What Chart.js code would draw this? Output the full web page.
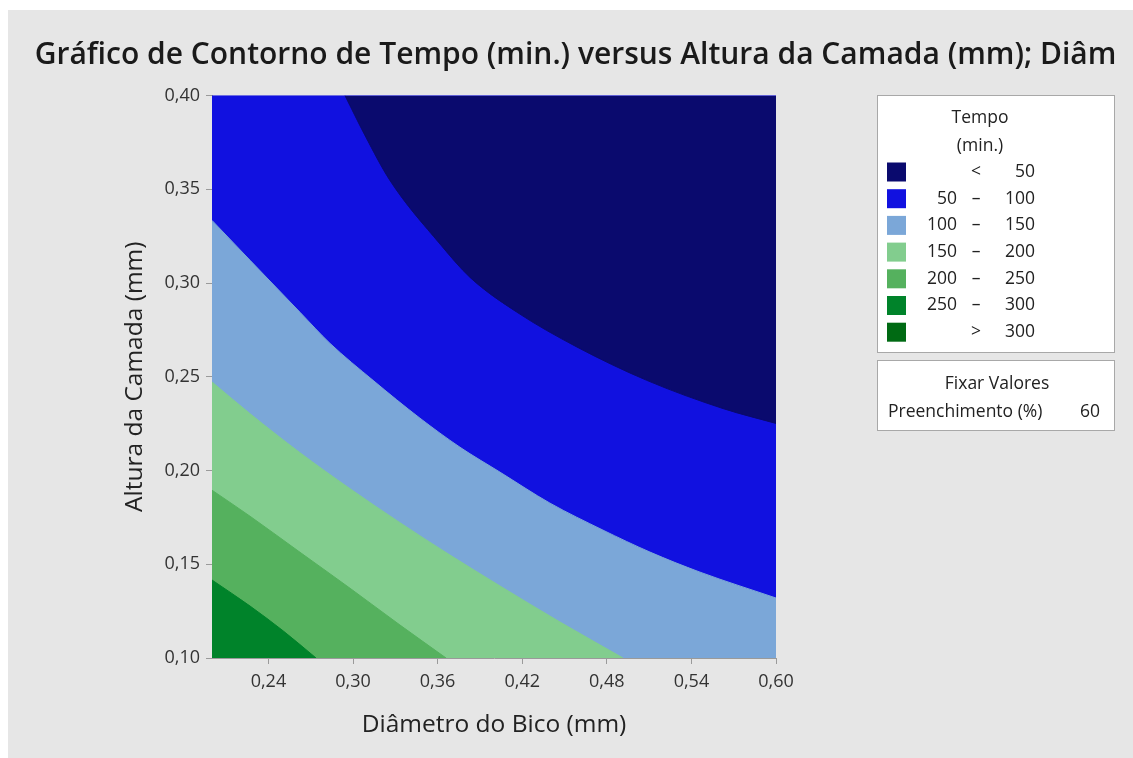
<!DOCTYPE html>
<html>
<head>
<meta charset="utf-8">
<script src="https://cdn.jsdelivr.net/npm/chart.js@4.4.1/dist/chart.umd.min.js"></script>
<style>
  html, body { margin: 0; padding: 0; background: #ffffff; }
  #panel { position: absolute; left: 8px; top: 10px; width: 1125px; height: 748px; background: #e6e6e6; }
  #c { position: absolute; left: 0; top: 0; }
</style>
</head>
<body>
<div id="panel"></div>
<canvas id="c" width="1133" height="758"></canvas>
<script>
// Contour lines of Tempo (min.) over Diâmetro do Bico (x) and Altura da Camada (y).
// The 50 contour runs from the top edge to the right edge; the < 50 band lies above it.
const contour50X  = [0.2943, 0.3085, 0.3262, 0.3617, 0.3830, 0.4161, 0.4587, 0.5083, 0.5626, 0.600];
const contour50Y  = [0.400,  0.3787, 0.3547, 0.3208, 0.3030, 0.2845, 0.2659, 0.2481, 0.2330, 0.2251];

// The remaining contours run from the left edge; each band below a contour is filled down to y = 0.10.
const contour100X = [0.200, 0.2270, 0.2624, 0.2837, 0.3142, 0.3475, 0.3759, 0.4043, 0.4397, 0.4773, 0.5106, 0.5461, 0.600];
const contour100Y = [0.3334, 0.3121, 0.2844, 0.2678, 0.2481, 0.2279, 0.2124, 0.1991, 0.1826, 0.1682, 0.1565, 0.1458, 0.1320];

const contour150X = [0.200, 0.2270, 0.2624, 0.2979, 0.3333, 0.3688, 0.4043, 0.4468, 0.4915];
const contour150Y = [0.2472, 0.2303, 0.2095, 0.1903, 0.1722, 0.1549, 0.1384, 0.1192, 0.100];

const contour200X = [0.200, 0.2270, 0.2624, 0.2979, 0.3333, 0.3660];
const contour200Y = [0.1895, 0.1756, 0.1564, 0.1372, 0.1176, 0.100];

const contour250X = [0.200, 0.2270, 0.2506, 0.2738];
const contour250Y = [0.1416, 0.1277, 0.1144, 0.100];

// whole plot area, filled with the 50–100 band
const fullX = [0.200, 0.600];
const fullY = [0.400, 0.400];

// axis ticks
const xTicks = [0.24, 0.30, 0.36, 0.42, 0.48, 0.54, 0.60];
const yTicks = [0.10, 0.15, 0.20, 0.25, 0.30, 0.35, 0.40];

// legend bands
const bandLow    = ['',   '50',  '100', '150', '200', '250', ''];
const bandSep    = ['<',  '–',   '–',   '–',   '–',   '–',   '>'];
const bandHigh   = ['50', '100', '150', '200', '250', '300', '300'];
const bandColors = ['#0a0a6e', '#1111e0', '#7ba7d8', '#82cd8e', '#55b15e', '#00832a', '#006a13'];

const FONT = "'Open Sans', 'Noto Sans', sans-serif";
const fmt = v => v.toFixed(2).replace('.', ',');
const pts = (xs, ys) => xs.map((x, i) => ({ x: x, y: ys[i] }));

function band(xs, ys, color, order, fill, smooth) {
  return {
    data: pts(xs, ys),
    showLine: true,
    fill: fill,
    backgroundColor: color,
    borderColor: color,
    borderWidth: 1,
    pointRadius: 0,
    cubicInterpolationMode: smooth ? 'monotone' : 'default',
    tension: 0,
    order: order
  };
}

const legendPlugin = {
  id: 'contourLegend',
  afterDraw(chart) {
    const ctx = chart.ctx;
    ctx.save();
    // band legend box
    ctx.fillStyle = '#ffffff';
    ctx.strokeStyle = '#a8a8a8';
    ctx.lineWidth = 1;
    ctx.fillRect(877.5, 95.5, 237, 257);
    ctx.strokeRect(877.5, 95.5, 237, 257);
    ctx.fillStyle = '#222222';
    ctx.font = '17.5px ' + FONT;
    ctx.textBaseline = 'middle';
    ctx.textAlign = 'center';
    ctx.fillText('Tempo', 980, 118);
    ctx.fillText('(min.)', 980, 146);
    for (let i = 0; i < bandColors.length; i++) {
      const y = 172 + i * 26.7;
      ctx.fillStyle = bandColors[i];
      ctx.fillRect(887, y - 9.5, 19, 19);
      ctx.fillStyle = '#222222';
      ctx.textAlign = 'right';
      ctx.fillText(bandLow[i], 957, y);
      ctx.textAlign = 'center';
      ctx.fillText(bandSep[i], 976, y);
      ctx.textAlign = 'right';
      ctx.fillText(bandHigh[i], 1035, y);
    }
    // fixed values box
    ctx.fillStyle = '#ffffff';
    ctx.fillRect(877.5, 360.5, 237, 70);
    ctx.strokeRect(877.5, 360.5, 237, 70);
    ctx.fillStyle = '#222222';
    ctx.textAlign = 'center';
    ctx.fillText('Fixar Valores', 997, 384);
    ctx.textAlign = 'left';
    ctx.fillText('Preenchimento (%)', 888, 412);
    ctx.textAlign = 'right';
    ctx.fillText('60', 1100, 412);
    ctx.restore();
  }
};

new Chart(document.getElementById('c'), {
  type: 'scatter',
  data: {
    datasets: [
      band(contour250X, contour250Y, bandColors[5], 1, 'start', true),
      band(contour200X, contour200Y, bandColors[4], 2, 'start', true),
      band(contour150X, contour150Y, bandColors[3], 3, 'start', true),
      band(contour100X, contour100Y, bandColors[2], 4, 'start', true),
      band(contour50X,  contour50Y,  bandColors[0], 5, 'end',   true),
      band(fullX,       fullY,       bandColors[1], 6, 'start', false)
    ]
  },
  options: {
    responsive: false,
    animation: false,
    devicePixelRatio: 1,
    layout: { padding: { left: 18, right: 0, top: 0, bottom: 0 } },
    plugins: {
      legend: { display: false },
      tooltip: { enabled: false },
      title: {
        display: true,
        text: 'Gráfico de Contorno de Tempo (min.) versus Altura da Camada (mm); Diâm',
        color: '#1a1a1a',
        font: { family: FONT, size: 30, weight: '600' },
        padding: { top: 37, bottom: 22.5 }
      }
    },
    scales: {
      x: {
        type: 'linear',
        min: 0.2,
        max: 0.6,
        afterBuildTicks: s => { s.ticks = xTicks.map(v => ({ value: v })); },
        afterFit: s => { s.height = 100; },
        ticks: { callback: v => fmt(v), color: '#333333', font: { family: FONT, size: 18 }, padding: 7, maxRotation: 0 },
        grid: { drawOnChartArea: false, drawTicks: true, tickLength: 6, color: '#9a9a9a' },
        border: { display: true, color: '#9a9a9a' },
        title: { display: true, text: 'Diâmetro do Bico (mm)', color: '#222222', font: { family: FONT, size: 24.5 }, padding: { top: 0, bottom: 18 } }
      },
      y: {
        type: 'linear',
        min: 0.1,
        max: 0.4,
        afterBuildTicks: s => { s.ticks = yTicks.map(v => ({ value: v })); },
        afterFit: s => { s.width = 194; },
        ticks: { callback: v => fmt(v), color: '#333333', font: { family: FONT, size: 18 }, padding: 6 },
        grid: { drawOnChartArea: false, drawTicks: true, tickLength: 6, color: '#9a9a9a' },
        border: { display: true, color: '#9a9a9a' },
        title: { display: true, text: 'Altura da Camada (mm)', color: '#222222', font: { family: FONT, size: 24.5 }, padding: { top: 102.5, bottom: 0 } }
      },
      side: {
        type: 'linear',
        position: 'right',
        display: true,
        afterFit: s => { s.width = 357; },
        ticks: { display: false },
        grid: { display: false },
        border: { display: false }
      }
    }
  },
  plugins: [legendPlugin]
});
</script>
</body>
</html>
